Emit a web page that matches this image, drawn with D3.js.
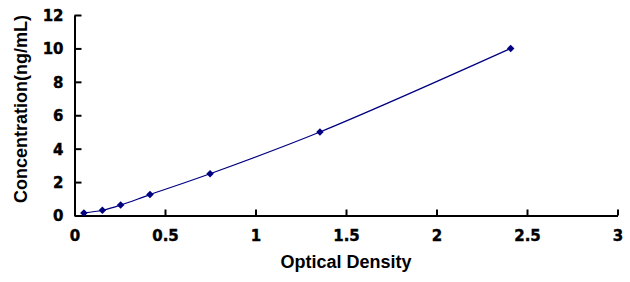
<!DOCTYPE html>
<html>
<head>
<meta charset="utf-8">
<script src="https://cdn.jsdelivr.net/npm/d3@7"></script>
<style>
  html, body { margin: 0; padding: 0; background: #fff; }
  svg { display: block; }
  text { font-family: "Liberation Sans", Arial, sans-serif; font-weight: bold; fill: #000; }
  .tick text { font-family: "DejaVu Sans", sans-serif; font-weight: bold; font-size: 15px; }
</style>
</head>
<body>
<svg id="chart"></svg>
<script>
// standard curve points
const opticalDensity = [0.052, 0.154, 0.255, 0.417, 0.749, 1.356, 2.41];
const concentration = [0.156, 0.312, 0.625, 1.25, 2.5, 5, 10];
const xTicks = [0, 0.5, 1, 1.5, 2, 2.5, 3];
const yTicks = [0, 2, 4, 6, 8, 10, 12];

const width = 630, height = 282;
const margin = { top: 15, right: 12.5, bottom: 66.5, left: 74.5 };
const w = width - margin.left - margin.right;
const h = height - margin.top - margin.bottom;

const svg = d3.select("#chart").attr("width", width).attr("height", height);
const g = svg.append("g").attr("transform", `translate(${margin.left},${margin.top})`);

const x = d3.scaleLinear().domain([0, 3]).range([0, w]);
const y = d3.scaleLinear().domain([0, 12]).range([h, 0]);

// axes, ticks pointing inward
const xAxis = g.append("g")
  .attr("transform", `translate(0,${h})`)
  .call(d3.axisBottom(x).tickValues(xTicks).tickSizeInner(-6).tickSizeOuter(0)
    .tickPadding(15).tickFormat(d3.format("")));
const yAxis = g.append("g")
  .call(d3.axisLeft(y).tickValues(yTicks).tickSizeInner(-7).tickSizeOuter(0)
    .tickPadding(11).tickFormat(d3.format("")));

[xAxis, yAxis].forEach((a) => {
  a.attr("font-family", null).attr("font-size", null);
  a.select(".domain").attr("stroke", "#000").attr("stroke-width", 2);
  a.selectAll(".tick line").attr("stroke", "#000").attr("stroke-width", 2);
  a.selectAll(".tick text")
    .attr("fill", "#000")
    .attr("stroke", "#000")
    .attr("stroke-width", 0.4);
});
yAxis.selectAll(".tick text").attr("dy", "0.36em");

// smoothed line through the points
const pts = opticalDensity.map((d, i) => [d, concentration[i]]);
const line = d3.line()
  .x((d) => x(d[0]))
  .y((d) => y(d[1]))
  .curve(d3.curveCatmullRom.alpha(0.5));

g.append("path")
  .datum(pts)
  .attr("d", line)
  .attr("fill", "none")
  .attr("stroke", "#000080")
  .attr("stroke-width", 1.2);

// diamond markers
g.selectAll(".pt")
  .data(pts)
  .join("path")
  .attr("class", "pt")
  .attr("d", d3.symbol(d3.symbolDiamond2, 36)())
  .attr("transform", (d) => `translate(${x(d[0])},${y(d[1])})`)
  .attr("fill", "#000080");

// axis titles
svg.append("text")
  .attr("x", margin.left + w / 2)
  .attr("y", 267.5)
  .attr("text-anchor", "middle")
  .attr("font-size", "18px")
  .text("Optical Density");

svg.append("text")
  .attr("transform", `translate(26.5,109) rotate(-90)`)
  .attr("text-anchor", "middle")
  .attr("font-size", "18px")
  .text("Concentration(ng/mL)");
</script>
</body>
</html>
